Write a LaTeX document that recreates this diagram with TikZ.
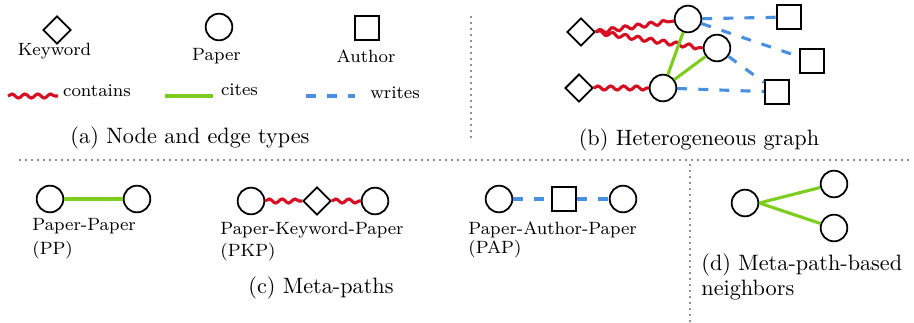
\documentclass[tikz,border=0pt]{standalone}
\usetikzlibrary{shapes.geometric,decorations.pathmorphing}
\definecolor{cred}{RGB}{215,15,35}
\definecolor{cgreen}{RGB}{124,205,30}
\definecolor{cblue}{RGB}{74,144,226}
\definecolor{cdot}{RGB}{30,30,30}
\tikzset{
  paper/.style={circle,draw=black,line width=0.8pt,inner sep=0pt,minimum size=12pt},
  kw/.style={diamond,draw=black,line width=0.8pt,inner sep=0pt,minimum size=12.5pt},
  auth/.style={rectangle,draw=black,line width=0.8pt,inner sep=0pt,minimum size=11pt},
  lbl/.style={font=\footnotesize,inner sep=0pt},
  captext/.style={font=\normalsize,inner sep=0pt},
  contains/.style={draw=cred,line width=1.4pt,decorate,decoration={snake,amplitude=0.9pt,segment length=5.8pt}},
  cites/.style={draw=cgreen,line width=1.4pt},
  writes/.style={draw=cblue,line width=1.4pt,dash pattern=on 4.5pt off 5pt},
  sep/.style={draw=cdot,line width=0.7pt,line cap=round,dash pattern=on 0pt off 2.7pt}
}
\begin{document}
\begin{tikzpicture}[x=0.45pt,y=-0.45pt]
\useasboundingbox (0,0) rectangle (914,322);
% separators
\coordinate (v1a) at (471,17); \coordinate (v1b) at (471,140);
\coordinate (h1a) at (20,160); \coordinate (h1b) at (912,160);
\coordinate (v2a) at (690,165); \coordinate (v2b) at (690,322);
\draw[sep] (v1a) -- (v1b);
\draw[sep] (h1a) -- (h1b);
\draw[sep] (v2a) -- (v2b);
% (a)
\node[kw] (lk) at (57,30) {};
\node[paper] (lp) at (219,27) {};
\node[auth] (la) at (367,28) {};
\node[lbl] (lkt) at (54.5,51) {Keyword};
\node[lbl] (lpt) at (216.5,56) {Paper};
\node[lbl] (lat) at (366,56.5) {Author};
\coordinate (c1) at (8,96); \coordinate (c2) at (58,96);
\coordinate (g1) at (165,96); \coordinate (g2) at (213,96);
\coordinate (b1) at (306,96); \coordinate (b2) at (355,96);
\draw[contains] (c1) -- (c2);
\draw[cites] (g1) -- (g2);
\draw[writes] (b1) -- (b2);
\node[lbl] (ct) at (97,91) {contains};
\node[lbl] (gt) at (239.5,89.5) {cites};
\node[lbl] (bt) at (395,93) {writes};
\node[captext] (capa) at (190,137.5) {(a) Node and edge types};
% (b)
\node[kw] (k1) at (581,32) {};
\node[kw] (k2) at (579,88) {};
\node[paper] (p1) at (688,19) {};
\node[paper] (p2) at (717,48) {};
\node[paper] (p3) at (663,88) {};
\node[auth] (a1) at (789,17) {};
\node[auth] (a2) at (812,61) {};
\node[auth] (a3) at (777,92) {};
\draw[contains] (k1.east) -- (p1);
\draw[contains] (k1.east) -- (p2.west);
\draw[contains] (k2.east) -- (p3);
\draw[cites] (p1) -- (p3);
\draw[cites] (p2) -- (p3);
\draw[writes] (p1) -- (a1);
\draw[writes] (p1) -- (a2);
\draw[writes] (p2) -- (a3);
\draw[writes] (p3) -- (a3);
\node[captext] (capb) at (699,140) {(b) Heterogeneous graph};
% (c)
\node[paper] (pp1) at (50,199) {};
\node[paper] (pp2) at (137,199) {};
\draw[cites] (pp1) -- (pp2);
\node[lbl,anchor=west] (ppt) at (32,226) {Paper-Paper};
\node[lbl,anchor=west] (ppt2) at (32,250) {(PP)};
\node[paper] (kp1) at (251,201) {};
\node[kw] (kk) at (317,201) {};
\node[paper] (kp2) at (375,201) {};
\draw[contains] (kp1) -- (kk);
\draw[contains] (kk) -- (kp2);
\node[lbl,anchor=west] (kpt) at (220,230) {Paper-Keyword-Paper};
\node[lbl,anchor=west] (kpt2) at (220,252) {(PKP)};
\node[paper] (ap1) at (499,199) {};
\node[auth] (aa) at (564,199) {};
\node[paper] (ap2) at (623,199) {};
\draw[writes] (ap1) -- (aa);
\draw[writes] (aa) -- (ap2);
\node[lbl,anchor=west] (apt) at (468,230) {Paper-Author-Paper};
\node[lbl,anchor=west] (apt2) at (468,249) {(PAP)};
\node[captext] (capc) at (321,288) {(c) Meta-paths};
% (d)
\node[paper] (d0) at (745,203) {};
\node[paper] (d1) at (834,184) {};
\node[paper] (d2) at (834,228) {};
\draw[cites] (d0.east) -- (d1);
\draw[cites] (d0.east) -- (d2);
\node[captext,anchor=west] (capd) at (701,265) {(d) Meta-path-based};
\node[captext,anchor=west] (capd2) at (701,290) {neighbors};
\end{tikzpicture}
\end{document}
